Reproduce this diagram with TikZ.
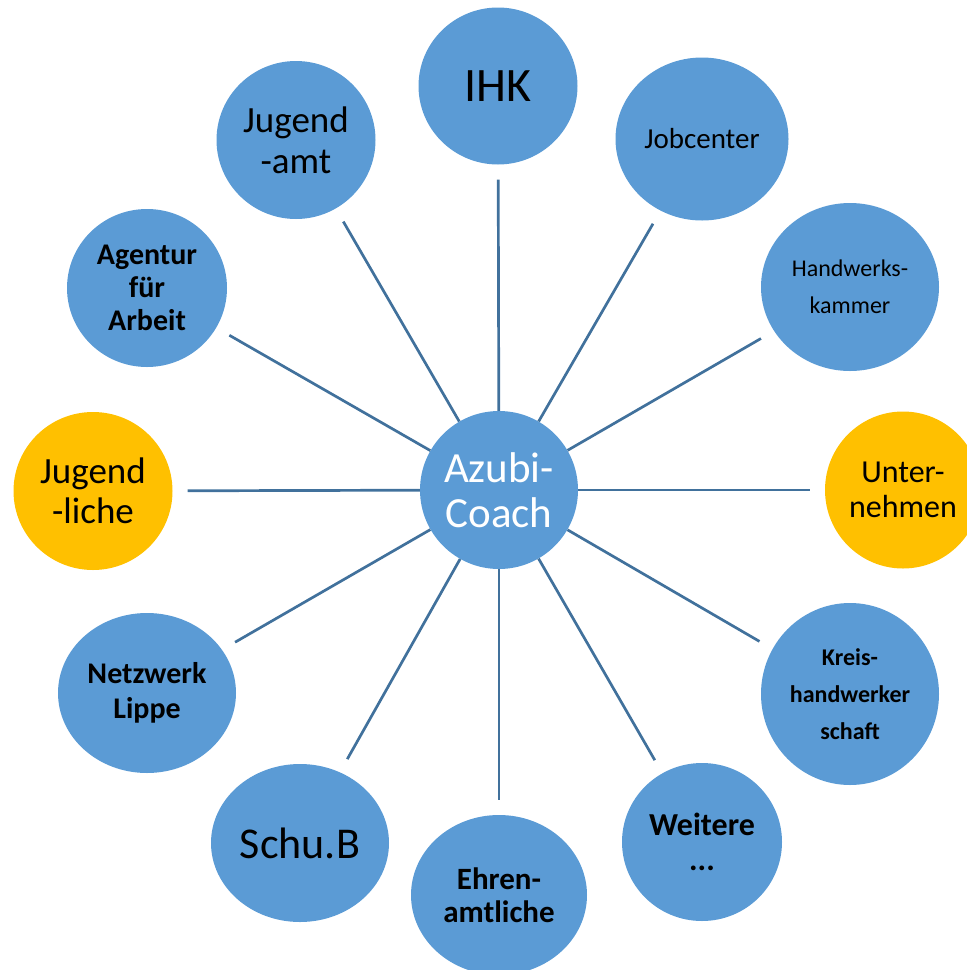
\documentclass[tikz,border=0pt]{standalone}
\usepackage{fontspec}
\setmainfont{Carlito}
\usetikzlibrary{shapes.geometric}
\definecolor{coachblue}{HTML}{5B9BD5}
\definecolor{coachgold}{HTML}{FFC000}
\definecolor{spokeblue}{HTML}{41719C}
\newcommand{\bubfont}[2]{\fontsize{#1}{#2}\selectfont}
\tikzset{
    bubble/.style 2 args={ellipse, fill=coachblue, inner sep=0pt, align=center,
        minimum width=#1pt, minimum height=#2pt},
    gold/.style={fill=coachgold},
    spokeline/.style={draw=spokeblue, line width=2.7pt, shorten >=15pt},
}
\begin{document}
\begin{tikzpicture}[x=1pt,y=-1pt]
    \path[use as bounding box] (0,0) rectangle (967,970);
    %% hub
    \node[bubble={158}{158}, text=white, font=\bubfont{43}{45}] (coach) at (499,490) {Azubi-\\Coach};
    %% ring, clockwise from top
    \node[bubble={159}{157}, font=\bubfont{48}{52}] (ihk) at (498,86) {IHK};
    \node[bubble={173}{163}, font=\bubfont{29}{32}] (jobcenter) at (702,139) {Jobcenter};
    \node[bubble={178}{168}, font=\bubfont{24}{37}] (hwk) at (850,287) {Handwerks-\\kammer};
    \node[bubble={156}{157}, gold, font=\bubfont{32}{35}] (unternehmen) at (903,490) {Unter-\\nehmen};
    \node[bubble={178}{182}, font=\bfseries\bubfont{24}{37}] (kreis) at (850,694) {Kreis-\\handwerker\\schaft};
    \node[bubble={160}{158}, font=\bfseries\bubfont{32}{35}] (weitere) at (702,842) {Weitere\\...};
    \node[bubble={176}{160}, font=\bfseries\bubfont{31}{33}] (ehrenamt) at (499,895) {Ehren-\\amtliche};
    \node[bubble={178}{158}, font=\bubfont{44}{45}] (schub) at (300,843) {Schu.B};
    \node[bubble={178}{160}, font=\bfseries\bubfont{30}{35}] (netzwerk) at (147,693) {Netzwerk\\Lippe};
    \node[bubble={159}{158}, gold, font=\bubfont{37}{40}] (jugendliche) at (93,491) {Jugend\\-liche};
    \node[bubble={160}{158}, font=\bfseries\bubfont{30}{33}] (agentur) at (147,288) {Agentur\\für\\Arbeit};
    \node[bubble={159}{158}, font=\bubfont{37}{41}] (jugendamt) at (296,140) {Jugend\\-amt};
    %% spokes
    \foreach \n in {ihk,jobcenter,hwk,unternehmen,kreis,weitere,ehrenamt,schub,netzwerk,jugendliche,agentur,jugendamt}
        \draw[spokeline] (coach) -- (\n);
\end{tikzpicture}
\end{document}
